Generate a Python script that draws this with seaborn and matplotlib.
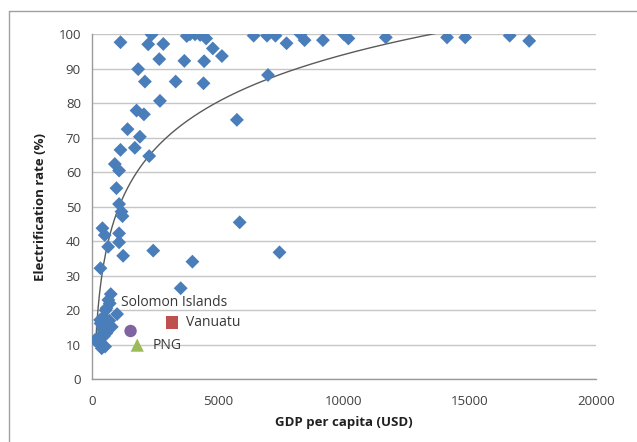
import numpy as np
import pandas as pd
import matplotlib
matplotlib.use("Agg")
import matplotlib.pyplot as plt
from matplotlib.lines import Line2D
import seaborn as sns

# ---- data ----
gdp = [1130, 2365, 2230, 2830, 2670, 1833, 2100, 2697, 1768, 2060,
       1410, 1900, 1700, 1130, 2270, 905, 1075, 970, 1075, 1170,
       1210, 3320, 3665, 4450, 4425, 3760, 3890, 4090, 4290, 4530,
       4795, 5155, 5750, 6415, 6945, 7280, 7720, 6985, 8275, 8435,
       9165, 10000, 10175, 11660, 14090, 14810, 16575, 17350,
       5860, 415, 505, 1075, 1075, 640, 2430, 7440, 1235, 3985, 335, 3520,
       745, 705, 575, 995, 455, 320, 415, 785, 585, 120, 255, 385, 520, 255,
       650, 540, 690, 340, 640, 430, 560, 300, 470]
elec = [97.7, 99.9, 97.1, 97.2, 92.8, 89.9, 86.3, 80.7, 77.9, 76.8,
        72.5, 70.3, 67.1, 66.5, 64.7, 62.4, 60.5, 55.4, 50.8, 48.6,
        47.3, 86.3, 92.3, 92.2, 85.8, 99.5, 100.0, 100.0, 99.8, 98.8,
        95.9, 93.7, 75.2, 99.6, 99.6, 99.6, 97.4, 88.2, 100.0, 98.3,
        98.3, 100.0, 98.8, 99.1, 99.1, 99.1, 99.6, 98.1,
        45.5, 43.8, 41.8, 42.3, 39.7, 38.4, 37.3, 36.8, 35.8, 34.1, 32.2, 26.4,
        24.7, 22.0, 20.6, 18.9, 18.1, 17.2, 15.2, 15.2, 13.8, 11.4, 10.4, 9.0, 9.5, 12.0,
        23.0, 20.0, 17.0, 16.2, 15.7, 14.3, 13.3, 10.9, 12.5]

highlight_names = ["Solomon Islands", "Vanuatu", "PNG"]
highlight_gdp = [1530, 3175, 1795]
highlight_elec = [14.0, 16.5, 9.9]

# logarithmic trendline y = a*ln(x) + b (as shown in the reference)
trend_a = 19.75
trend_b = -87.77
trend_x_range = [160, 17350]

x_ticks = [0, 5000, 10000, 15000, 20000]
y_ticks = [0, 10, 20, 30, 40, 50, 60, 70, 80, 90, 100]

# ---- style ----
sns.set_theme(style="white")
plt.rcParams["font.family"] = ["Open Sans", "DejaVu Sans"]

fig = plt.figure(figsize=(6.37, 4.42), dpi=100)
ax = fig.add_axes([92 / 637, (442 - 379.3) / 442, (596 - 92) / 637, (379.3 - 34.3) / 442])

df = pd.DataFrame({"gdp": gdp, "elec": elec})
tx = np.linspace(trend_x_range[0], trend_x_range[1], 400)
tdf = pd.DataFrame({"x": tx, "y": trend_a * np.log(tx) + trend_b})

sns.lineplot(data=tdf, x="x", y="y", ax=ax, color="#5a5a5a", linewidth=1.0, zorder=2)
sns.scatterplot(data=df, x="gdp", y="elec", ax=ax, marker="D", s=50,
                color="#4a7ebb", edgecolor="none", linewidth=0, zorder=3)

hl_colors = ["#8064a2", "#c0504d", "#9bbb59"]
hl_markers = ["o", "s", "^"]
hl_sizes = [80, 80, 90]
for i in range(3):
    sns.scatterplot(x=[highlight_gdp[i]], y=[highlight_elec[i]], ax=ax,
                    marker=hl_markers[i], s=hl_sizes[i], color=hl_colors[i],
                    edgecolor="none", linewidth=0, zorder=4)

# labels as in the reference
ax.text(1150, 22.4, "Solomon Islands", fontsize=10, color="#383838", va="center", ha="left", zorder=5)
ax.text(3750, 16.5, "Vanuatu", fontsize=10, color="#383838", va="center", ha="left", zorder=5)
ax.text(2415, 9.7, "PNG", fontsize=10, color="#383838", va="center", ha="left", zorder=5)

ax.set_xlim(0, 20000)
ax.set_ylim(0, 100)
ax.set_xticks(x_ticks)
ax.set_yticks(y_ticks)
ax.set_xticklabels([str(t) for t in x_ticks])
ax.set_yticklabels([str(t) for t in y_ticks])
ax.yaxis.grid(True, color="#c6c6c6", linewidth=1.0)
ax.xaxis.grid(False)
ax.set_axisbelow(True)

for s in ["top", "right"]:
    ax.spines[s].set_visible(False)
for s in ["left", "bottom"]:
    ax.spines[s].set_color("#9a9a9a")
    ax.spines[s].set_linewidth(1.0)

ax.tick_params(axis="both", which="major", direction="out", length=5, width=1,
               color="#9a9a9a", labelsize=9.5, labelcolor="#404040")
ax.tick_params(axis="x", pad=6)
ax.tick_params(axis="y", pad=3)

ax.set_xlabel("GDP per capita (USD)", fontsize=9.5, fontweight="bold", color="#202020", labelpad=6)
ax.set_ylabel("Electrification rate (%)", fontsize=9.5, fontweight="bold", color="#202020", labelpad=8)

# outer chart border (top and left visible in reference)
fig.add_artist(Line2D([9 / 637, 9 / 637], [0, 1 - 11 / 442], transform=fig.transFigure,
                      color="#a0a0a0", linewidth=1.0))
fig.add_artist(Line2D([9 / 637, 1], [1 - 11 / 442, 1 - 11 / 442], transform=fig.transFigure,
                      color="#a0a0a0", linewidth=1.0))

fig.savefig("out.png", dpi=100)
